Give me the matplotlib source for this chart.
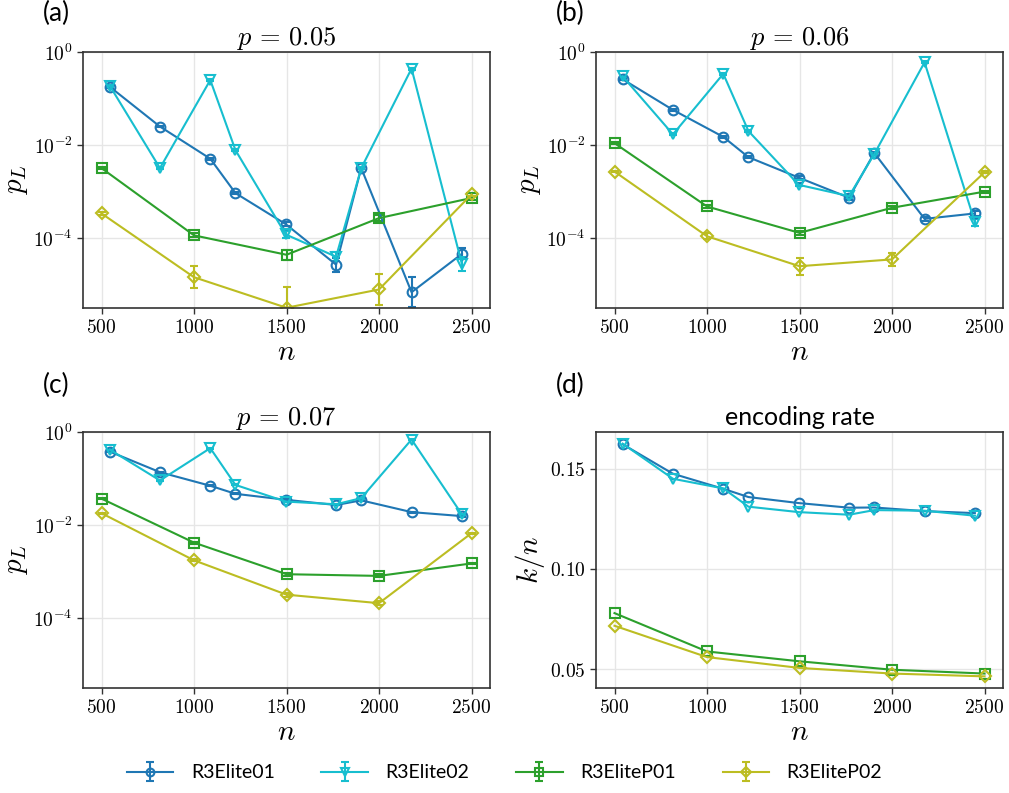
import matplotlib
matplotlib.use("Agg")
import matplotlib.pyplot as plt
import numpy as np
from matplotlib.ticker import FixedLocator, FuncFormatter, NullLocator

plt.rcParams["mathtext.fontset"] = "cm"
plt.rcParams["font.family"] = ["Lato", "DejaVu Sans"]

# block lengths
n_elite = [544, 816, 1088, 1224, 1496, 1768, 1904, 2176, 2448]
n_p = [500, 1000, 1500, 2000, 2500]

series_names = ["R3Elite01", "R3Elite02", "R3EliteP01", "R3EliteP02"]
series_colors = ["tab:blue", "tab:cyan", "tab:green", "tab:olive"]
series_markers = ["o", "v", "s", "D"]

# logical error rate, p = 0.05
pl05_elite01 = [0.18, 0.025, 5.1e-3, 9.3e-4, 2.0e-4, 2.7e-5, 3.2e-3, 6.9e-6, 4.6e-5]
pl05_elite02 = [0.19, 3.2e-3, 0.25, 7.8e-3, 1.2e-4, 4.0e-5, 3.2e-3, 0.44, 2.8e-5]
pl05_p01 = [3.2e-3, 1.15e-4, 4.4e-5, 2.7e-4, 7.3e-4]
pl05_p02 = [3.4e-4, 1.45e-5, 3.2e-6, 7.9e-6, 8.7e-4]
# error bar half widths in decades
err05_elite01 = [0.02, 0.02, 0.02, 0.03, 0.05, 0.15, 0.02, 0.32, 0.12]
err05_elite02 = [0.02, 0.02, 0.02, 0.02, 0.08, 0.1, 0.02, 0.02, 0.15]
err05_p01 = [0.02, 0.04, 0.11, 0.06, 0.04]
err05_p02 = [0.04, 0.24, 0.45, 0.33, 0.03]

# p = 0.06
pl06_elite01 = [0.26, 0.057, 0.015, 5.5e-3, 2.0e-3, 7.4e-4, 6.8e-3, 2.6e-4, 3.4e-4]
pl06_elite02 = [0.30, 0.017, 0.34, 0.020, 1.4e-3, 8.0e-4, 6.4e-3, 0.60, 2.2e-4]
pl06_p01 = [0.011, 4.8e-4, 1.3e-4, 4.5e-4, 1.0e-3]
pl06_p02 = [2.7e-3, 1.1e-4, 2.5e-5, 3.5e-5, 2.6e-3]
err06_elite01 = [0.02, 0.02, 0.02, 0.02, 0.03, 0.04, 0.02, 0.05, 0.05]
err06_elite02 = [0.02, 0.02, 0.02, 0.02, 0.03, 0.04, 0.02, 0.02, 0.08]
err06_p01 = [0.02, 0.03, 0.05, 0.03, 0.02]
err06_p02 = [0.02, 0.06, 0.18, 0.14, 0.02]

# p = 0.07
pl07_elite01 = [0.38, 0.137, 0.070, 0.047, 0.035, 0.027, 0.034, 0.019, 0.0156]
pl07_elite02 = [0.42, 0.091, 0.45, 0.073, 0.032, 0.028, 0.038, 0.69, 0.017]
pl07_p01 = [0.037, 4.2e-3, 8.8e-4, 8.1e-4, 1.5e-3]
pl07_p02 = [0.018, 1.75e-3, 3.2e-4, 2.1e-4, 6.7e-3]
err07_elite01 = [0.01] * 9
err07_elite02 = [0.01] * 9
err07_p01 = [0.01, 0.02, 0.03, 0.03, 0.02]
err07_p02 = [0.01, 0.02, 0.04, 0.04, 0.01]

# encoding rate k/n
rate_elite01 = [0.1621, 0.1474, 0.1399, 0.1358, 0.1328, 0.1305, 0.1306, 0.1288, 0.1278]
rate_elite02 = [0.1624, 0.1449, 0.1401, 0.1310, 0.1283, 0.1270, 0.1293, 0.1290, 0.1265]
rate_p01 = [0.0780, 0.0589, 0.0540, 0.0498, 0.0479]
rate_p02 = [0.0717, 0.0561, 0.0507, 0.0479, 0.0465]

W, H = 1009, 793
fig = plt.figure(figsize=(W / 100, H / 100), dpi=100)


def add_ax(left, top, right, bottom):
    return fig.add_axes([left / W, 1 - bottom / H, (right - left) / W, (bottom - top) / H])


def style_ax(ax):
    ax.grid(True, color="#e6e6e6", linewidth=1.0)
    ax.set_axisbelow(True)
    for s in ax.spines.values():
        s.set_color("#333333")
        s.set_linewidth(1.2)
    ax.tick_params(labelsize=14, length=4, width=1, color="#333333")
    ax.set_xlim(400, 2600)
    ax.xaxis.set_major_locator(FixedLocator([500, 1000, 1500, 2000, 2500]))
    ax.xaxis.set_major_formatter(FuncFormatter(lambda v, _: rf"${v:.0f}$"))
    ax.set_xlabel(r"$n$", fontsize=21, labelpad=2)


def draw_series(ax, x, y, err, k, log=True):
    y = np.array(y)
    if log:
        e = np.array(err)
        yerr = [y - y / 10 ** e, y * 10 ** e - y]
    else:
        yerr = None
    return ax.errorbar(x, y, yerr=yerr, color=series_colors[k], marker=series_markers[k],
                       markersize=7 if series_markers[k] != "D" else 6.5,
                       markerfacecolor="none", markeredgewidth=1.5, linewidth=1.5,
                       capsize=3, elinewidth=1.5, capthick=1.3, label=series_names[k])


panels = [
    ((83, 52, 490, 308), "0.05", (pl05_elite01, pl05_elite02, pl05_p01, pl05_p02),
     (err05_elite01, err05_elite02, err05_p01, err05_p02), "(a)", (43, 13)),
    ((596, 52, 1003, 308), "0.06", (pl06_elite01, pl06_elite02, pl06_p01, pl06_p02),
     (err06_elite01, err06_elite02, err06_p01, err06_p02), "(b)", (556, 13)),
    ((83, 432, 490, 688), "0.07", (pl07_elite01, pl07_elite02, pl07_p01, pl07_p02),
     (err07_elite01, err07_elite02, err07_p01, err07_p02), "(c)", (43, 385)),
]

handles = []
for box, p, ys, errs, lab, lpos in panels:
    ax = add_ax(*box)
    style_ax(ax)
    ax.set_yscale("log")
    ax.set_ylim(10 ** -5.5, 1)
    ax.yaxis.set_major_locator(FixedLocator([1e-4, 1e-2, 1]))
    ax.yaxis.set_minor_locator(NullLocator())
    ax.yaxis.set_major_formatter(FuncFormatter(lambda v, _: rf"$10^{{{int(round(np.log10(v)))}}}$"))
    xs = (n_elite, n_elite, n_p, n_p)
    hs = []
    for k in range(4):
        hs.append(draw_series(ax, xs[k], ys[k], errs[k], k))
    if not handles:
        handles = hs
    ax.set_ylabel(r"$p_L$", fontsize=21, labelpad=2)
    ax.set_title(rf"$p\,=\,{p}$", fontsize=19, pad=5)
    fig.text(lpos[0] / W, 1 - lpos[1] / H, lab, fontsize=19, ha="left", va="center")

# encoding rate panel
ax = add_ax(596, 432, 1003, 688)
style_ax(ax)
draw_series(ax, n_elite, rate_elite01, None, 0, log=False)
draw_series(ax, n_elite, rate_elite02, None, 1, log=False)
draw_series(ax, n_p, rate_p01, None, 2, log=False)
draw_series(ax, n_p, rate_p02, None, 3, log=False)
ax.yaxis.set_major_locator(FixedLocator([0.05, 0.10, 0.15]))
ax.yaxis.set_major_formatter(FuncFormatter(lambda v, _: rf"${v:.2f}$"))
ax.set_ylabel(r"$k/n$", fontsize=21, labelpad=2)
ax.set_title("encoding rate", fontsize=18, pad=5)
fig.text(556 / W, 1 - 385 / H, "(d)", fontsize=19, ha="left", va="center")

fig.legend(handles, series_names, loc="center", bbox_to_anchor=(0.5, 1 - 773 / H), ncol=4,
           frameon=False, fontsize=14, handlelength=2.4, columnspacing=2.4, handletextpad=0.9,
           markerscale=0.8)

fig.savefig("out.png", dpi=100)
